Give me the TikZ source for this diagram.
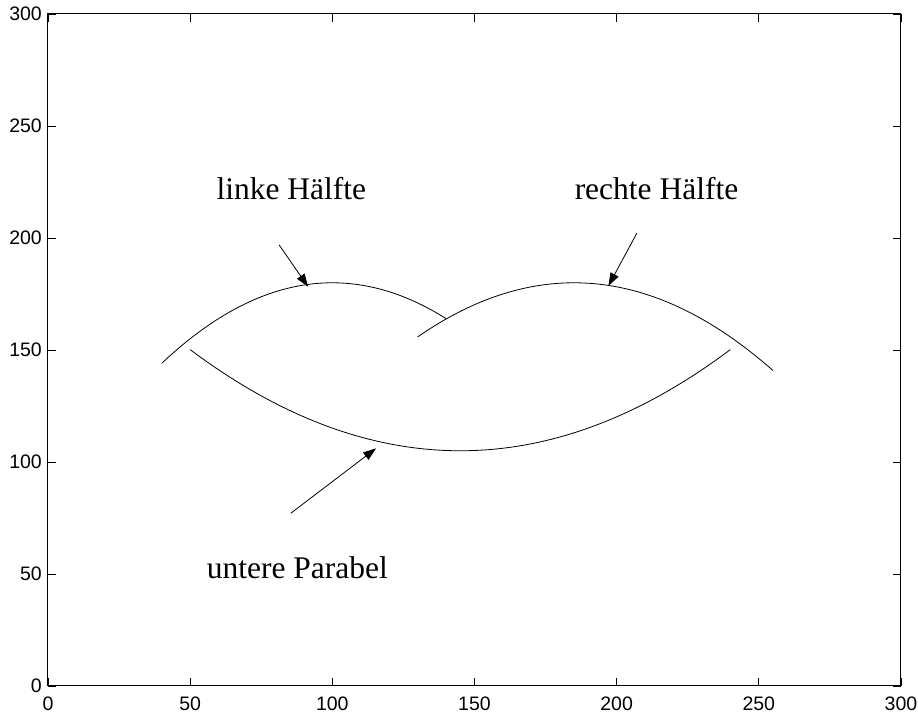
\documentclass[tikz,border=0pt]{standalone}
\usepackage{fontspec}
\setmainfont{Liberation Serif}
\newfontfamily\axisfont{Liberation Sans}
\usetikzlibrary{arrows.meta}

\begin{document}
\begin{tikzpicture}[x=2.8433pt,y=2.24pt,
  every node/.style={inner sep=0pt},
  curve/.style={line width=0.8pt,samples=80},
  pfeil/.style={line width=0.8pt,-{Triangle[length=13pt,width=9pt]}},
  lbl/.style={anchor=base west,font=\fontsize{31.5}{38}\selectfont},
  ticklbl/.style={font=\axisfont\fontsize{19.5}{23}\selectfont}]
  \useasboundingbox (-16.88,-12.95) rectangle (306.0,306.25);

  % Rahmen mit Skalenstrichen nach innen
  \draw[line width=1pt] (0,0) rectangle (300,300);
  \foreach \t in {0,50,...,300} {
    \draw[line width=0.8pt] (\t,0) -- ++(0,3.6) (\t,300) -- ++(0,-3.6)
                            (0,\t) -- ++(2.8,0) (300,\t) -- ++(-2.8,0);
    \node[ticklbl,anchor=east] (yl\t) at (-2.1,\t) {\t};
    \node[ticklbl,anchor=north] (xl\t) at (\t,-4.9) {\t};
  }

  % die drei Parabelstuecke
  \draw[curve,domain=40:140]  plot (\x,{180-0.01*(\x-100)*(\x-100)});
  \draw[curve,domain=130:255] plot (\x,{180-0.008*(\x-185)*(\x-185)});
  \draw[curve,domain=50:240]  plot (\x,{105+0.005*(\x-145)*(\x-145)});

  % Beschriftungen
  \node[lbl] (links)  at (59.2,217)  {linke Hälfte};
  \node[lbl] (rechts) at (185.2,217) {rechte Hälfte};
  \node[lbl] (unten)  at (55.8,48.2) {untere Parabel};

  % Pfeile auf die Kurven
  \coordinate (lA) at (81.3,196.9);  \coordinate (lB) at (91.5,178.2);
  \coordinate (rA) at (207.1,202.1); \coordinate (rB) at (197.1,178.6);
  \coordinate (uA) at (85.4,77.1);   \coordinate (uB) at (115.4,106.1);
  \draw[pfeil] (lA) -- (lB);
  \draw[pfeil] (rA) -- (rB);
  \draw[pfeil] (uA) -- (uB);
\end{tikzpicture}
\end{document}
